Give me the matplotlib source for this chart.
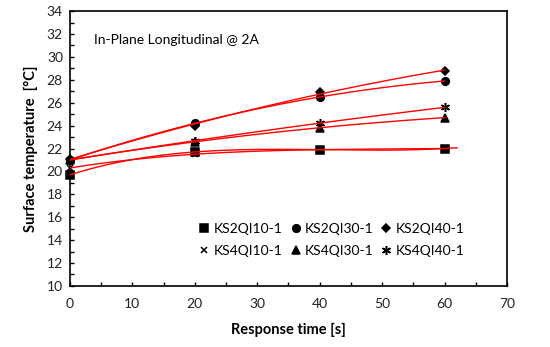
import numpy as np
import matplotlib
matplotlib.use("Agg")
import matplotlib.pyplot as plt
from matplotlib.ticker import MultipleLocator

plt.rcParams['font.family'] = ['Lato', 'DejaVu Sans']

time_s = [0, 20, 40, 60]
ks2qi10 = [19.7, 21.7, 21.9, 22.0]
ks2qi30 = [21.0, 24.2, 26.5, 27.9]
ks2qi40 = [21.1, 24.0, 26.9, 28.8]
ks4qi10 = [20.3, 21.5, 21.9, 22.0]
ks4qi30 = [21.0, 22.6, 23.8, 24.7]
ks4qi40 = [21.0, 22.7, 24.2, 25.6]

# name, values, marker, size, trendline end, fit degree
series = [
    ("KS2QI10-1", ks2qi10, 's', 5.5, 62, 3),
    ("KS2QI30-1", ks2qi30, 'o', 5.5, 60, 2),
    ("KS2QI40-1", ks2qi40, 'D', 4.5, 60, 2),
    ("KS4QI10-1", ks4qi10, 'x', 5, 60, 3),
    ("KS4QI30-1", ks4qi30, '^', 5.5, 60, 2),
    ("KS4QI40-1", ks4qi40, (6, 2, 0), 6.5, 60, 2),
]

fig = plt.figure(figsize=(5.5, 3.47), dpi=100)
ax = fig.add_axes([0.127, 0.176, 0.795, 0.792])

handles = []
for name, vals, mk, ms, xend, deg in series:
    coef = np.polyfit(time_s, vals, deg)
    xx = np.linspace(0, xend, 200)
    ax.plot(xx, np.polyval(coef, xx), color='red', lw=1.0, zorder=3)
    h, = ax.plot(time_s, vals, linestyle='none', marker=mk, markersize=ms,
                 color='black', markeredgecolor='black', markeredgewidth=1.1,
                 label=name, zorder=2, clip_on=False)
    handles.append(h)

ax.set_xlim(0, 70)
ax.set_ylim(10, 34)
ax.xaxis.set_major_locator(MultipleLocator(10))
ax.xaxis.set_minor_locator(MultipleLocator(5))
ax.yaxis.set_major_locator(MultipleLocator(2))
ax.yaxis.set_minor_locator(MultipleLocator(1))
ax.tick_params(which='both', direction='in', length=3, width=1, labelsize=10,
               colors='black')
ax.tick_params(axis='both', labelcolor='#222222')
ax.tick_params(axis='x', pad=9)
ax.tick_params(axis='y', pad=5)
for s in ax.spines.values():
    s.set_linewidth(1.2)

ax.set_xlabel("Response time [s]", fontsize=10.5, fontweight='bold', labelpad=9)
ax.set_ylabel("Surface temperature  [°C]", fontsize=10.5, fontweight='bold', labelpad=6)

ax.text(0.055, 0.895, "In-Plane Longitudinal @ 2A", transform=ax.transAxes,
        fontsize=10, ha='left', va='center')

order = [0, 3, 1, 4, 2, 5]
ax.legend(handles=[handles[i] for i in order], ncol=3, loc='lower right',
          bbox_to_anchor=(0.915, 0.085), frameon=False, fontsize=10,
          handlelength=0.7, handletextpad=0.3, columnspacing=0.6,
          labelspacing=0.75, borderaxespad=0)

fig.savefig("out.png", dpi=100)
